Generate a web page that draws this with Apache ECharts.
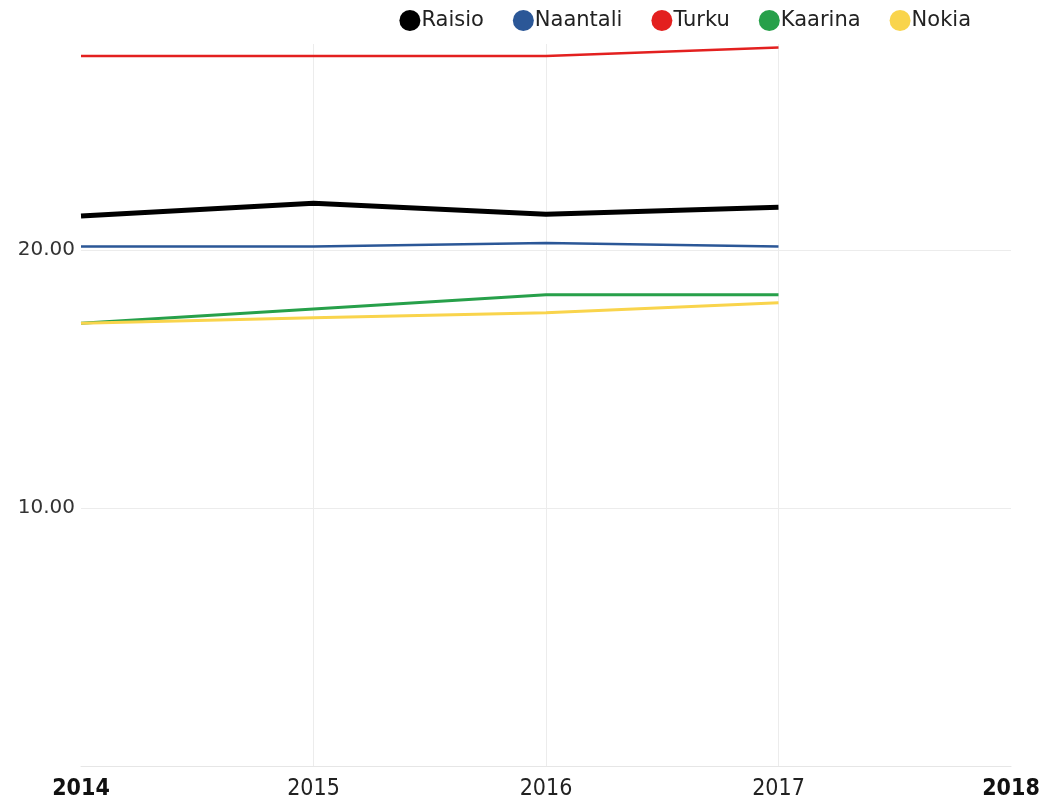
<!DOCTYPE html>
<html><head><meta charset="utf-8">
<script src="https://cdn.jsdelivr.net/npm/echarts@6/dist/echarts.min.js"></script>
<style>html,body{margin:0;padding:0;background:#fff}#c{width:1046px;height:801px}</style>
</head><body><div id="c"></div>
<script>
var years = ['2014','2015','2016','2017','2018'];
var raisio   = [21.33, 21.82, 21.40, 21.67, null];
var naantali = [20.15, 20.15, 20.28, 20.15, null];
var turku    = [27.53, 27.53, 27.53, 27.86, null];
var kaarina  = [17.17, 17.72, 18.28, 18.28, null];
var nokia    = [17.17, 17.38, 17.58, 17.97, null];
var seriesNames = ['Raisio','Naantali','Turku','Kaarina','Nokia'];
var colors = ['#000000','#2b5797','#e3201f','#27a04a','#f9d44c'];
var widths = [5, 2.5, 2.5, 3, 3];
var values = [raisio, naantali, turku, kaarina, nokia];

var chart = echarts.init(document.getElementById('c'));
chart.setOption({
  animation: false,
  color: colors,
  legend: {
    top: 5, right: 70, itemGap: 29, itemWidth: 21, itemHeight: 21, icon: 'circle',
    textStyle: {fontFamily: 'DejaVu Sans', fontSize: 21, color: '#222', padding: [0,0,0,-4]},
    data: seriesNames
  },
  grid: {left: 81, right: 35, top: 44, bottom: 35, containLabel: false},
  xAxis: {
    type: 'category', data: years, boundaryGap: false,
    axisLine: {lineStyle: {color: '#e6e6e6', width: 1}},
    axisTick: {show: false},
    splitLine: {show: true, lineStyle: {color: ['transparent','#ececec','#ececec','#ececec','transparent']}},
    axisLabel: {
      margin: 12, fontFamily: 'DejaVu Sans Condensed', fontSize: 23, color: '#222',
      formatter: function (v, i) { return (i === 0 || i === years.length - 1) ? '{b|' + v + '}' : v; },
      rich: {b: {fontWeight: 'bold', fontFamily: 'DejaVu Sans Condensed', fontSize: 23, color: '#111'}}
    }
  },
  yAxis: {
    type: 'value', min: 0, max: 28, interval: 10,
    axisLine: {show: false}, axisTick: {show: false},
    splitLine: {show: true, lineStyle: {color: ['#ececec','#ececec','#ececec','transparent']}},
    axisLabel: {
      margin: 6, fontFamily: 'DejaVu Sans', fontSize: 20, color: '#333',
      formatter: function (v) { return (v === 10 || v === 20) ? v.toFixed(2) : ''; }
    }
  },
  series: seriesNames.map(function (n, i) {
    return {
      name: n, type: 'line', data: values[i], showSymbol: false, symbol: 'circle',
      lineStyle: {width: widths[i], color: colors[i]},
      itemStyle: {color: colors[i]}
    };
  })
});
</script></body></html>
